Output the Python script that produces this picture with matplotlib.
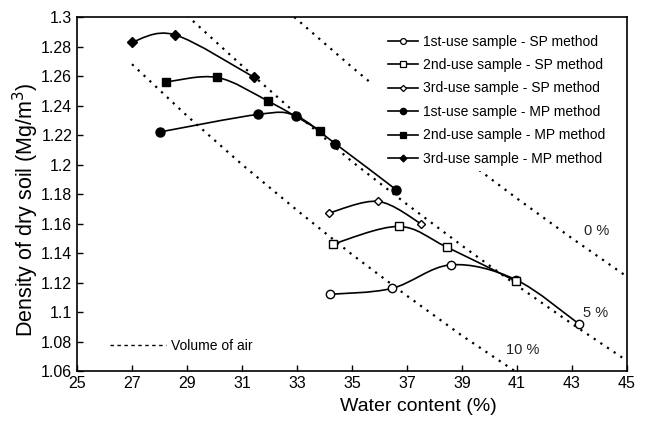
import numpy as np
import matplotlib.pyplot as plt
from matplotlib.path import Path
from matplotlib.patches import PathPatch, Rectangle
from matplotlib.lines import Line2D
from matplotlib.ticker import FormatStrFormatter

plt.rcParams['font.family'] = ['Liberation Sans', 'DejaVu Sans']

# Measured points (water content %, dry density Mg/m3)
sp1_x = [34.2, 36.45, 38.6, 40.95, 43.25]
sp1_y = [1.112, 1.116, 1.132, 1.122, 1.092]
sp2_x = [34.3, 36.7, 38.45, 40.95]
sp2_y = [1.146, 1.158, 1.144, 1.121]
sp3_x = [34.15, 35.95, 37.5]
sp3_y = [1.167, 1.175, 1.160]
mp1_x = [28.0, 31.6, 32.95, 34.4, 36.6]
mp1_y = [1.222, 1.234, 1.233, 1.214, 1.183]
mp2_x = [28.25, 30.1, 31.95, 33.85]
mp2_y = [1.256, 1.259, 1.243, 1.223]
mp3_x = [27.0, 28.55, 31.45]
mp3_y = [1.283, 1.288, 1.259]

# Volume of air lines
air0_x = [32.9, 35.0, 37.0, 39.0, 41.0, 43.0, 45.0]
air0_y = [1.300, 1.266, 1.235, 1.205, 1.177, 1.150, 1.124]
air5_x = [29.0, 31.0, 33.0, 35.0, 37.0, 39.0, 41.0, 43.0, 45.0]
air5_y = [1.301, 1.267, 1.234, 1.202, 1.173, 1.145, 1.118, 1.092, 1.067]
air10_x = [27.0, 29.0, 31.0, 33.0, 35.0, 37.0, 39.0, 41.0, 41.3]
air10_y = [1.268, 1.233, 1.200, 1.169, 1.139, 1.111, 1.084, 1.059, 1.055]

air_labels = ['0 %', '5 %', '10 %']
air_label_x = [43.9, 43.85, 41.2]
air_label_y = [1.155, 1.099, 1.074]

series = [
    ('1st-use sample - SP method', sp1_x, sp1_y, 'o', 'white', 6.0),
    ('2nd-use sample - SP method', sp2_x, sp2_y, 's', 'white', 6.0),
    ('3rd-use sample - SP method', sp3_x, sp3_y, 'D', 'white', 4.5),
    ('1st-use sample - MP method', mp1_x, mp1_y, 'o', 'black', 6.5),
    ('2nd-use sample - MP method', mp2_x, mp2_y, 's', 'black', 6.0),
    ('3rd-use sample - MP method', mp3_x, mp3_y, 'D', 'black', 5.0),
]


def smooth_path(x, y):
    # Bezier segments through the points, like a spreadsheet "smoothed line"
    p = np.column_stack([x, y]).astype(float)
    n = len(p)
    verts = [p[0]]
    codes = [Path.MOVETO]
    for i in range(n - 1):
        p0 = p[i - 1] if i > 0 else p[i]
        p3 = p[i + 2] if i + 2 < n else p[i + 1]
        c1 = p[i] + (p[i + 1] - p0) / 6.0
        c2 = p[i + 1] - (p3 - p[i]) / 6.0
        verts += [c1, c2, p[i + 1]]
        codes += [Path.CURVE4] * 3
    return Path(verts, codes)


fig = plt.figure(figsize=(6.5, 4.25), dpi=100)
ax = fig.add_axes([0.1185, 0.127, 0.846, 0.833])

dotted = (0, (1.0, 2.6))
for ax_x, ax_y in [(air0_x, air0_y), (air5_x, air5_y), (air10_x, air10_y)]:
    ax.plot(ax_x, ax_y, color='black', lw=1.6, linestyle=dotted, zorder=1)

for txt, tx, ty in zip(air_labels, air_label_x, air_label_y):
    ax.text(tx, ty, txt, fontsize=10.5, ha='center', va='center', color='#222222')

# white area behind the legend hides the air line there
ax.add_patch(Rectangle((0.532, 0.565), 0.44, 0.405, transform=ax.transAxes,
                       facecolor='white', edgecolor='none', zorder=1.5))

handles = []
for label, xs, ys, m, fc, ms in series:
    ax.add_patch(PathPatch(smooth_path(xs, ys), facecolor='none',
                           edgecolor='black', lw=1.2, zorder=2))
    ax.plot(xs, ys, linestyle='none', marker=m, markersize=ms,
            markerfacecolor=fc, markeredgecolor='black', markeredgewidth=1.0, zorder=3)
    handles.append(Line2D([], [], color='black', lw=1.2, marker=m,
                          markersize=ms * 0.7, markerfacecolor=fc,
                          markeredgecolor='black', markeredgewidth=0.9, label=label))

leg = ax.legend(handles=handles, loc='upper left', bbox_to_anchor=(0.555, 0.966),
                frameon=False, fontsize=10, labelspacing=0.68, handlelength=2.2,
                handletextpad=0.35, borderaxespad=0)
ax.add_artist(leg)

air_handle = Line2D([], [], color='black', lw=1.0, linestyle=(0, (2.5, 2.5)),
                    label='Volume of air')
ax.legend(handles=[air_handle], loc='center left', bbox_to_anchor=(0.05, 0.07),
          frameon=False, fontsize=10, handlelength=4.0, handletextpad=0.4,
          borderaxespad=0)

ax.set_xlim(25, 45)
ax.set_ylim(1.06, 1.3)
ax.set_xticks(np.arange(25, 46, 2))
ax.set_yticks(np.arange(1.06, 1.301, 0.02))
ax.yaxis.set_major_formatter(FormatStrFormatter('%g'))
ax.tick_params(direction='in', length=4, width=1, labelsize=11.5, colors='black')
for s in ax.spines.values():
    s.set_linewidth(1.2)

ax.set_xlabel('Water content (%)', fontsize=14)
ax.set_ylabel('Density of dry soil (Mg/m$^3$)', fontsize=15.5)
ax.xaxis.set_label_coords(0.62, -0.075)
ax.yaxis.set_label_coords(-0.066, 0.455)

plt.savefig('out.png', dpi=100)
